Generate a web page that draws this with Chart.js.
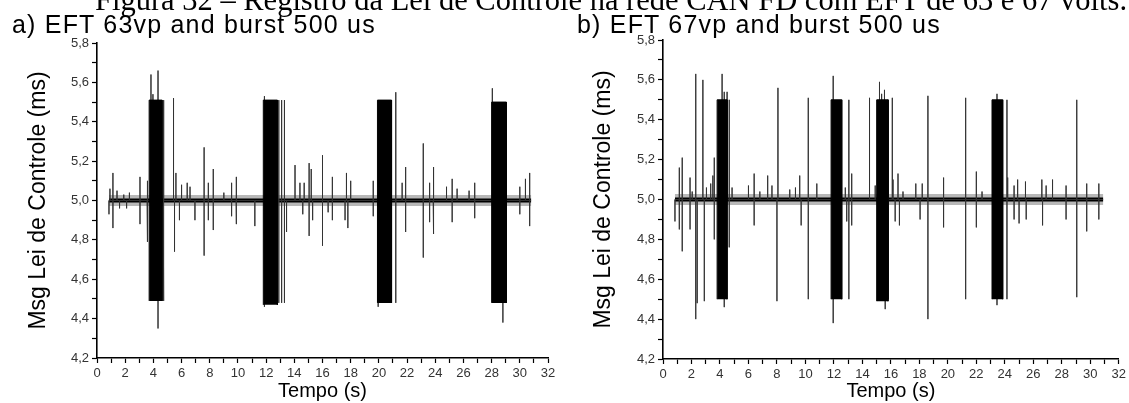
<!DOCTYPE html>
<html><head><meta charset="utf-8">
<script src="https://cdn.jsdelivr.net/npm/chart.js@4.4.1/dist/chart.umd.min.js"></script>
<style>
html,body{margin:0;padding:0;background:#fff;}
#wrap{position:relative;width:1129px;height:403px;overflow:hidden;background:#fff;}
canvas{position:absolute;top:0;}
.cap{position:absolute;left:95px;top:-15px;font-family:"Liberation Serif","Times New Roman",serif;font-size:30.5px;line-height:30.5px;white-space:nowrap;color:#000;}
.sub{position:absolute;top:12px;font-family:"Liberation Sans",Arial,sans-serif;font-size:25px;line-height:25px;letter-spacing:1.2px;white-space:nowrap;color:#000;}
</style></head>
<body><div id="wrap">
<canvas id="ca" width="565" height="403" style="left:0"></canvas>
<canvas id="cb" width="564" height="403" style="left:565px"></canvas>
<div class="cap">Figura 32 – Registro da Lei de Controle na rede CAN FD com EFT de 63 e 67 volts.</div>
<div class="sub" style="left:12px">a) EFT 63vp and burst 500 us</div>
<div class="sub" style="left:577px">b) EFT 67vp and burst 500 us</div>
</div>
<script>
// ---- tick labels ----
const yTickValues = [4.2, 4.4, 4.6, 4.8, 5.0, 5.2, 5.4, 5.6, 5.8];
const yTickLabels = ['4,2', '4,4', '4,6', '4,8', '5,0', '5,2', '5,4', '5,6', '5,8'];
const xTickValues = [0, 2, 4, 6, 8, 10, 12, 14, 16, 18, 20, 22, 24, 26, 28, 30, 32];
const xTickLabels = ['0', '2', '4', '6', '8', '10', '12', '14', '16', '18', '20', '22', '24', '26', '28', '30', '32'];
const xAxisTitle = 'Tempo (s)';
const yAxisTitle = 'Msg Lei de Controle (ms)';

const baseLevel = 5.0;

// ---- panel a: EFT 63vp ----
const spanA = [0.85, 30.8];
const burstStartA = [3.7, 11.8, 19.9, 28.0];
const burstEndA = [4.62, 12.8, 20.9, 29.05];
const burstLowA = [4.49, 4.47, 4.48, 4.48];
const burstHighA = [5.51, 5.51, 5.51, 5.50];
const spikeTimeA = [
  0.92, 1.13, 1.42, 1.9, 2.3, 3.05, 3.55, 3.83, 3.97, 4.33, 4.7, 5.43, 5.6, 6.0, 6.4, 6.6,
  7.6, 7.9, 8.25, 9.0, 9.55, 9.87, 11.9, 12.9, 13.1, 13.3, 14.05, 14.4, 14.7, 15.05, 15.2,
  16.0, 16.7, 17.7, 18.0, 19.6, 21.2, 21.65, 21.9, 23.15, 23.6, 23.85, 24.8, 25.2, 25.55,
  26.4, 26.8, 28.05, 30.0, 30.4, 30.7,
  0.85, 1.13, 1.6, 2.1, 3.05, 3.6, 4.33, 4.75, 5.5, 5.85, 6.95, 7.6, 7.9, 8.25, 9.55, 9.9,
  11.2, 11.85, 12.9, 13.1, 13.3, 13.45, 14.6, 15.05, 15.3, 16.0, 16.4, 16.7, 17.6, 17.8,
  19.6, 19.95, 21.2, 21.9, 23.15, 23.6, 23.9, 25.2, 26.8, 28.8, 30.0, 30.7
];
const spikeValueA = [
  5.06, 5.14, 5.05, 5.03, 5.04, 5.12, 5.10, 5.64, 5.54, 5.66, 5.51, 5.52, 5.14, 5.08, 5.09, 5.07,
  5.27, 5.09, 5.16, 5.04, 5.09, 5.12, 5.53, 5.51, 5.51, 5.51, 5.18, 5.09, 5.09, 5.19, 5.16,
  5.23, 5.12, 5.14, 5.10, 5.10, 5.55, 5.09, 5.17, 5.29, 5.09, 5.17, 5.07, 5.11, 5.06,
  5.05, 5.09, 5.57, 5.07, 5.11, 5.14,
  4.93, 4.86, 4.96, 4.96, 4.88, 4.79, 4.35, 4.49, 4.74, 4.90, 4.90, 4.72, 4.90, 4.85, 4.92, 4.88,
  4.87, 4.46, 4.48, 4.48, 4.48, 4.84, 4.93, 4.82, 4.90, 4.77, 4.94, 4.90, 4.90, 4.86,
  4.92, 4.46, 4.48, 4.84, 4.71, 4.89, 4.83, 4.89, 4.91, 4.38, 4.93, 4.87
];

// ---- panel b: EFT 67vp ----
const spanB = [0.84, 30.9];
const burstStartB = [3.8, 11.8, 15.0, 23.1];
const burstEndB = [4.5, 12.55, 15.8, 23.85];
const burstLowB = [4.50, 4.50, 4.49, 4.50];
const burstHighB = [5.50, 5.50, 5.50, 5.50];
const spikeTimeB = [
  1.14, 1.35, 1.9, 2.05, 2.3, 2.8, 3.05, 3.35, 3.5, 3.6, 4.15, 4.3, 4.5, 4.65, 4.85,
  6.0, 6.4, 6.8, 7.35, 7.65, 8.07, 8.9, 9.3, 9.6, 10.2, 10.8, 11.95, 12.8, 13.05, 13.25,
  14.5, 14.9, 15.2, 15.35, 15.55, 15.8, 16.1, 16.15, 16.5, 16.85, 17.75, 18.2, 18.6, 19.7,
  21.25, 22.0, 22.4, 23.45, 24.15, 24.2, 24.65, 24.9, 25.45, 26.6, 26.9, 27.35, 28.3, 29.05,
  29.75, 30.6,
  0.84, 1.15, 1.35, 1.9, 2.3, 2.4, 2.9, 3.6, 4.3, 4.65, 6.4, 8.0, 9.7, 10.2, 11.95, 12.9,
  13.05, 13.25, 15.6, 15.85, 16.3, 16.6, 18.05, 18.6, 19.7, 21.25, 22.0, 23.45, 24.15, 24.65,
  25.0, 25.5, 26.65, 28.3, 29.05, 29.75, 30.6
];
const spikeValueB = [
  5.16, 5.21, 5.11, 5.04, 5.63, 5.60, 5.06, 5.08, 5.12, 5.21, 5.63, 5.54, 5.54, 5.50, 5.06,
  5.07, 5.13, 5.04, 5.12, 5.07, 5.56, 5.05, 5.06, 5.12, 5.51, 5.08, 5.62, 5.06, 5.50, 5.13,
  5.51, 5.07, 5.59, 5.53, 5.55, 5.50, 5.51, 5.10, 5.13, 5.04, 5.08, 5.08, 5.52, 5.11,
  5.51, 5.14, 5.04, 5.53, 5.50, 5.11, 5.07, 5.10, 5.09, 5.10, 5.07, 5.10, 5.07, 5.50,
  5.08, 5.08,
  4.89, 4.85, 4.74, 4.85, 4.40, 4.48, 4.49, 4.80, 4.46, 4.76, 4.87, 4.49, 4.87, 4.50, 4.38, 4.89,
  4.50, 4.87, 4.45, 4.50, 4.89, 4.87, 4.90, 4.40, 4.86, 4.50, 4.86, 4.47, 4.50, 4.90,
  4.88, 4.90, 4.87, 4.90, 4.51, 4.84, 4.90
];

function lookupLabel(values, labels, v) {
  const i = values.findIndex(t => Math.abs(t - v) < 1e-6);
  return i >= 0 ? labels[i] : '';
}

function buildPanel(id, span, bs, be, bl, bh, st, sv, lay) {
  const datasets = [];
  const order = st.map((t, i) => i).sort((a, b) => st[a] - st[b]);
  const spikes = [{x: span[0], y: baseLevel}];
  order.forEach(i => {
    spikes.push({x: st[i], y: baseLevel}, {x: st[i], y: sv[i]}, {x: st[i], y: baseLevel});
  });
  spikes.push({x: span[1], y: baseLevel});
  const base = [{x: span[0], y: baseLevel}, {x: span[1], y: baseLevel}];
  datasets.push({data: spikes, borderColor: '#333', borderWidth: 1, pointRadius: 0, fill: false, order: 1});
  datasets.push({data: base, borderColor: '#000', borderWidth: 4, pointRadius: 0, fill: false, order: 2});
  datasets.push({data: base, borderColor: 'rgba(0,0,0,0.28)', borderWidth: 11, pointRadius: 0, fill: false, order: 3});
  bs.forEach((s, i) => {
    datasets.push({
      data: [{x: s, y: bl[i]}, {x: s, y: bh[i]}, {x: be[i], y: bh[i]}, {x: be[i], y: bl[i]}],
      borderColor: '#000', borderWidth: 1, backgroundColor: '#000',
      fill: {value: bl[i]}, pointRadius: 0, order: 0
    });
  });

  const tickFont = {family: "'Liberation Sans', Arial, sans-serif", size: 13};
  const titleFontX = {family: "'Liberation Sans', Arial, sans-serif", size: 20};
  const titleFontY = {family: "'Liberation Sans', Arial, sans-serif", size: 23};
  new Chart(document.getElementById(id), {
    type: 'line',
    data: {datasets},
    options: {
      responsive: false, animation: false, events: [],
      layout: {padding: lay.pad},
      plugins: {legend: {display: false}, tooltip: {enabled: false}},
      elements: {line: {tension: 0}},
      scales: {
        x: {
          type: 'linear', min: 0, max: 32,
          afterFit: s => { s.height = lay.xh; },
          grid: {display: true, drawOnChartArea: false, drawTicks: true, tickLength: 5, color: '#000', tickWidth: 1.2},
          border: {display: true, color: '#000', width: 1.6},
          ticks: {stepSize: 1, autoSkip: false, maxRotation: 0, minRotation: 0, padding: 3, color: '#333', font: tickFont,
            callback: v => lookupLabel(xTickValues, xTickLabels, v)},
          title: {display: true, text: xAxisTitle, font: titleFontX, color: '#000', padding: 0}
        },
        y: {
          type: 'linear', min: 4.2, max: 5.8,
          afterFit: s => { s.width = lay.yw; },
          grid: {display: true, drawOnChartArea: false, drawTicks: true, tickLength: 5, color: '#000', tickWidth: 1.2},
          border: {display: true, color: '#000', width: 1.6},
          ticks: {stepSize: 0.1, autoSkip: false, padding: 3, color: '#333', font: tickFont,
            callback: v => lookupLabel(yTickValues, yTickLabels, v)},
          title: {display: true, text: yAxisTitle, font: titleFontY, color: '#000', padding: 0}
        }
      }
    }
  });
}

buildPanel('ca', spanA, burstStartA, burstEndA, burstLowA, burstHighA, spikeTimeA, spikeValueA,
  {pad: {left: 25, top: 43, right: 17, bottom: 0}, yw: 72, xh: 45});
buildPanel('cb', spanB, burstStartB, burstEndB, burstLowB, burstHighB, spikeTimeB, spikeValueB,
  {pad: {left: 25, top: 40, right: 10, bottom: 0}, yw: 73, xh: 44});
</script>
</body></html>
